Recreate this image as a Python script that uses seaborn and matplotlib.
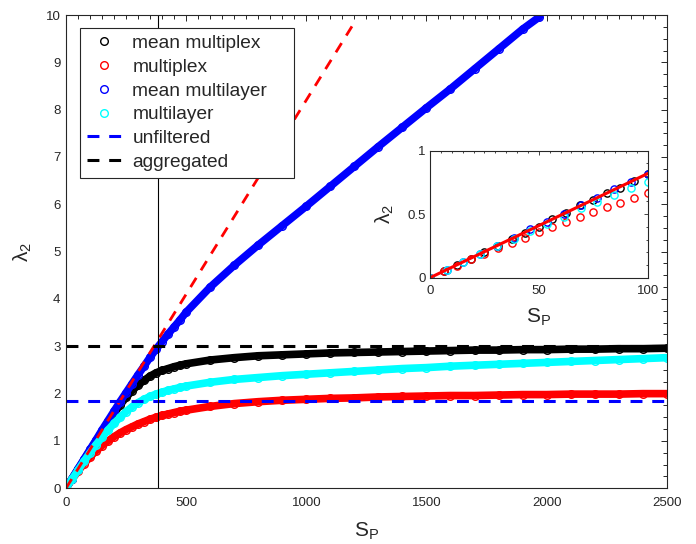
import matplotlib
matplotlib.use("Agg")
import matplotlib.pyplot as plt
from matplotlib.lines import Line2D
from matplotlib.ticker import MultipleLocator
import seaborn as sns

# ---------------- data ----------------
sp = [0, 25, 50, 75, 100, 125, 150, 175, 200, 225, 250, 275, 300, 325, 350,
      375, 400, 425, 450, 475, 500, 600, 700, 800, 900, 1000, 1100, 1200,
      1300, 1400, 1500, 1600, 1700, 1800, 1900, 2000, 2100, 2200, 2300,
      2400, 2500]
mean_multiplex = [0, 0.20, 0.40, 0.60, 0.80, 1.00, 1.20, 1.40, 1.58, 1.76,
                  1.92, 2.06, 2.18, 2.28, 2.37, 2.44, 2.49, 2.53, 2.57, 2.60,
                  2.63, 2.71, 2.76, 2.80, 2.82, 2.84, 2.86, 2.87, 2.88, 2.89,
                  2.90, 2.91, 2.92, 2.92, 2.93, 2.93, 2.94, 2.94, 2.95, 2.95,
                  2.96]
multiplex = [0, 0.19, 0.36, 0.52, 0.66, 0.79, 0.90, 1.00, 1.09, 1.17, 1.24,
             1.30, 1.36, 1.41, 1.46, 1.50, 1.54, 1.57, 1.60, 1.63, 1.65, 1.73,
             1.79, 1.83, 1.86, 1.88, 1.90, 1.91, 1.93, 1.94, 1.95, 1.96, 1.96,
             1.97, 1.98, 1.98, 1.99, 1.99, 1.99, 2.00, 2.00]
multilayer = [0, 0.19, 0.38, 0.57, 0.75, 0.92, 1.08, 1.23, 1.37, 1.50, 1.62,
              1.72, 1.81, 1.88, 1.94, 1.99, 2.03, 2.07, 2.10, 2.13, 2.16, 2.24,
              2.30, 2.34, 2.38, 2.41, 2.44, 2.47, 2.50, 2.53, 2.55, 2.58, 2.60,
              2.62, 2.64, 2.66, 2.68, 2.70, 2.72, 2.74, 2.76]
sp_blue = [0, 25, 50, 75, 100, 125, 150, 175, 200, 225, 250, 275, 300, 325,
           350, 375, 400, 425, 450, 475, 500, 600, 700, 800, 900, 1000, 1100,
           1200, 1300, 1400, 1500, 1600, 1700, 1800, 1900, 1970]
mean_multilayer = [0, 0.205, 0.41, 0.615, 0.82, 1.02, 1.23, 1.43, 1.63, 1.83,
                   2.02, 2.21, 2.40, 2.58, 2.77, 2.94, 3.10, 3.26, 3.41, 3.56,
                   3.72, 4.25, 4.71, 5.14, 5.55, 5.96, 6.38, 6.80, 7.22, 7.63,
                   8.04, 8.44, 8.86, 9.28, 9.70, 9.96]
slope_x = [0, 1190]
slope_y = [0, 9.76]
unfiltered = 1.84
aggregated = 3.0
sp_marker = 383

inset_sp_a = [0, 6.25, 12.5, 18.75, 25, 31.25, 37.5, 43.75, 50, 56.25, 62.5,
              68.75, 75, 81.25, 87.5, 93.75, 100]
inset_black = [0, 0.05, 0.10, 0.15, 0.20, 0.25, 0.305, 0.35, 0.40, 0.46, 0.51,
               0.57, 0.615, 0.665, 0.71, 0.765, 0.82]
inset_red = [0, 0.05, 0.09, 0.15, 0.19, 0.23, 0.275, 0.315, 0.36, 0.40, 0.44,
             0.48, 0.515, 0.555, 0.59, 0.625, 0.665]
inset_sp_b = [0, 7.69, 15.38, 23.08, 30.77, 38.46, 46.15, 53.85, 61.54, 69.23,
              76.92, 84.62, 92.31, 100]
inset_blue = [0, 0.063, 0.126, 0.19, 0.253, 0.315, 0.38, 0.44, 0.505, 0.57,
              0.63, 0.695, 0.757, 0.82]
inset_cyan = [0, 0.06, 0.125, 0.185, 0.25, 0.305, 0.37, 0.42, 0.48, 0.545,
              0.595, 0.65, 0.705, 0.755]
inset_line_x = [0, 100]
inset_line_y = [0, 0.82]

labels = ["mean multiplex", "multiplex", "mean multilayer", "multilayer",
          "unfiltered", "aggregated"]

# ---------------- style ----------------
sns.set_style("white")
plt.rcParams["font.family"] = ["Liberation Sans", "DejaVu Sans"]
plt.rcParams["mathtext.fontset"] = "custom"
plt.rcParams["mathtext.rm"] = "Liberation Sans"
plt.rcParams["mathtext.it"] = "Liberation Sans:italic"
plt.rcParams["mathtext.bf"] = "Liberation Sans:bold"

AX = "#262626"
BLACK, RED, BLUE, CYAN = "#000000", "#ff0000", "#0000ff", "#00ffff"
DASH = (3.9, 3.2)

fig = plt.figure(figsize=(6.96, 5.44), dpi=100)
ax = fig.add_axes([0.0948, 0.1024, 0.8632, 0.870])

band_kw = dict(lw=5.5, marker="o", markersize=5.5, markerfacecolor="none",
               markeredgewidth=1.0, solid_capstyle="round",
               solid_joinstyle="round", sort=False, estimator=None,
               legend=False)
for xs, ys, c in [(sp, mean_multiplex, BLACK), (sp, multiplex, RED),
                  (sp_blue, mean_multilayer, BLUE), (sp, multilayer, CYAN)]:
    sns.lineplot(x=xs, y=ys, ax=ax, color=c, markeredgecolor=c, **band_kw)

sns.lineplot(x=slope_x, y=slope_y, ax=ax, color=RED, lw=2.0, dashes=False,
             sort=False, estimator=None, legend=False).lines[-1].set_dashes(DASH)
ax.axhline(unfiltered, color=BLUE, lw=2.2, dashes=DASH)
ax.axhline(aggregated, color=BLACK, lw=2.2, dashes=DASH)
ax.axvline(sp_marker, color="black", lw=0.8)

ax.set_xlim(0, 2500)
ax.set_ylim(0, 10)
ax.xaxis.set_major_locator(MultipleLocator(500))
ax.xaxis.set_minor_locator(MultipleLocator(50))
ax.yaxis.set_major_locator(MultipleLocator(1))
ax.yaxis.set_minor_locator(MultipleLocator(0.25))
ax.tick_params(which="both", direction="in", top=True, right=True,
               colors=AX, labelsize=9.5, width=0.7)
ax.tick_params(axis="x", which="major", length=4.6, pad=6)
ax.tick_params(axis="y", which="major", length=4.6, pad=4)
ax.tick_params(which="minor", length=2.8)
for s in ax.spines.values():
    s.set_color(AX)
    s.set_linewidth(0.8)
ax.set_xlabel("S$_\\mathrm{P}$", fontsize=15, color=AX, labelpad=9)
ax.set_ylabel("λ$_2$", fontsize=15, color=AX, labelpad=8)

handles = []
for c in [BLACK, RED, BLUE, CYAN]:
    handles.append(Line2D([], [], ls="none", marker="o", markersize=5.5,
                          markerfacecolor="none", markeredgecolor=c,
                          markeredgewidth=1.0))
for c in [BLUE, BLACK]:
    handles.append(Line2D([], [], color=c, lw=2.2, dashes=DASH))
leg = ax.legend(handles, labels, loc="upper left",
                bbox_to_anchor=(0.0233, 0.0, 0.356, 0.9725), mode="expand",
                borderaxespad=0, fontsize=13.8, handlelength=1.78,
                handletextpad=0.6, labelspacing=0.33, borderpad=0.35,
                fancybox=False, framealpha=1, edgecolor=AX)
leg.get_frame().set_linewidth(0.8)

# ---------------- inset ----------------
ins = fig.add_axes([0.6178, 0.4895, 0.3128, 0.2335])
mk = dict(ls="none", marker="o", markersize=5.2, markerfacecolor="none",
          markeredgewidth=1.0, sort=False, estimator=None, legend=False)
for xs, ys, c in [(inset_sp_a, inset_black, BLACK), (inset_sp_a, inset_red, RED),
                  (inset_sp_b, inset_blue, BLUE), (inset_sp_b, inset_cyan, CYAN)]:
    sns.lineplot(x=xs, y=ys, ax=ins, color=c, markeredgecolor=c, **mk)
sns.lineplot(x=inset_line_x, y=inset_line_y, ax=ins, color=RED, lw=2.2,
             sort=False, estimator=None, legend=False)
ins.set_xlim(0, 100)
ins.set_ylim(0, 1)
ins.xaxis.set_major_locator(MultipleLocator(50))
ins.xaxis.set_minor_locator(MultipleLocator(5))
ins.yaxis.set_major_locator(MultipleLocator(0.5))
ins.yaxis.set_minor_locator(MultipleLocator(0.1))
ins.tick_params(which="both", direction="in", top=True, right=True,
                colors=AX, labelsize=9.5, width=0.6)
ins.tick_params(axis="x", which="major", length=3.0, pad=5)
ins.tick_params(axis="y", which="major", length=3.0, pad=3)
ins.tick_params(which="minor", length=1.6)
for s in ins.spines.values():
    s.set_color(AX)
    s.set_linewidth(0.8)
ins.set_xticks([0, 50, 100])
ins.set_xticklabels(["0", "50", "100"])
ins.set_yticks([0, 0.5, 1])
ins.set_yticklabels(["0", "0.5", "1"])
ins.set_xlabel("S$_\\mathrm{P}$", fontsize=15, color=AX, labelpad=7)
ins.set_ylabel("λ$_2$", fontsize=15, color=AX, labelpad=8)

fig.savefig("out.png", dpi=100)
